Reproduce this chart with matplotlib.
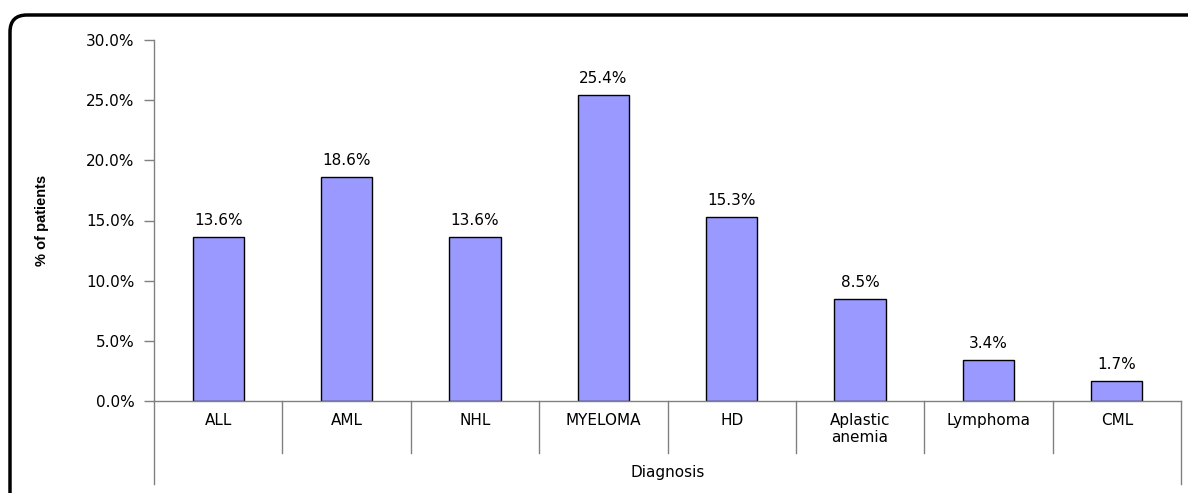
import numpy as np
import matplotlib.pyplot as plt
from matplotlib.patches import FancyBboxPatch

# Diagnosis breakdown
categories = ["ALL", "AML", "NHL", "MYELOMA", "HD", "Aplastic\nanemia", "Lymphoma", "CML"]
percent = [13.6, 18.6, 13.6, 25.4, 15.3, 8.5, 3.4, 1.7]
yticks = [0, 5, 10, 15, 20, 25, 30]

plt.rcParams['font.family'] = ['DejaVu Sans']
FS = 11

W, H = 1188, 493
fig = plt.figure(figsize=(W / 100, H / 100), dpi=100)

# outer rounded frame, drawn in pixel units on a background axes
bg = fig.add_axes([0, 0, 1, 1])
bg.set_xlim(0, W)
bg.set_ylim(H, 0)
bg.axis("off")
bg.add_patch(FancyBboxPatch((10, 15), 1200, 510,
                            boxstyle="round,pad=0,rounding_size=17",
                            fill=False, lw=2.5, edgecolor="black", clip_on=False))

# axes box in pixels
x0, x1, y0, y1 = 154, 1181, 401, 40
ax = fig.add_axes([x0 / W, 1 - y0 / H, (x1 - x0) / W, (y0 - y1) / H])
ax.patch.set_alpha(0)

n = len(categories)
x = np.arange(n)
ax.bar(x, percent, width=0.4, color="#9999FF", edgecolor="black", linewidth=1)
for xi, v in zip(x, percent):
    ax.text(xi, v + 0.75, f"{v:.1f}%", ha="center", va="bottom", fontsize=FS)

ax.set_xlim(-0.5, n - 0.5)
ax.set_ylim(0, 30)
ax.set_yticks(yticks)
ax.set_yticklabels([f"{t:.1f}%" for t in yticks], fontsize=FS)
ax.tick_params(axis="y", length=7, width=1, color="#808080", pad=7)
ax.set_xticks([])
for s in ["top", "right"]:
    ax.spines[s].set_visible(False)
for s in ["left", "bottom"]:
    ax.spines[s].set_color("#808080")
    ax.spines[s].set_linewidth(1)

# category labels and divider lines below the axis
to_ax = lambda py: (y0 - py) / (y0 - y1)
for xi, lab in zip(x, categories):
    ax.text(xi, to_ax(413), lab, ha="center", va="top", fontsize=FS,
            transform=ax.get_xaxis_transform(), linespacing=1.15)
for b in np.arange(0.5, n - 1, 1.0):
    ax.plot([b, b], [0, to_ax(453)], color="#808080", lw=1,
            transform=ax.get_xaxis_transform(), clip_on=False)
for b in [-0.5, n - 0.5]:
    ax.plot([b, b], [0, to_ax(484)], color="#808080", lw=1,
            transform=ax.get_xaxis_transform(), clip_on=False)
ax.text((n - 1) / 2, to_ax(473), "Diagnosis", ha="center", va="center", fontsize=FS,
        transform=ax.get_xaxis_transform())

fig.text(42 / W, 1 - 220 / H, "% of patients", rotation=90, ha="center", va="center",
         fontsize=10.5, fontweight="bold",
         family=['Liberation Sans Narrow', 'Liberation Sans', 'DejaVu Sans'])

fig.savefig("out.png", dpi=100)
